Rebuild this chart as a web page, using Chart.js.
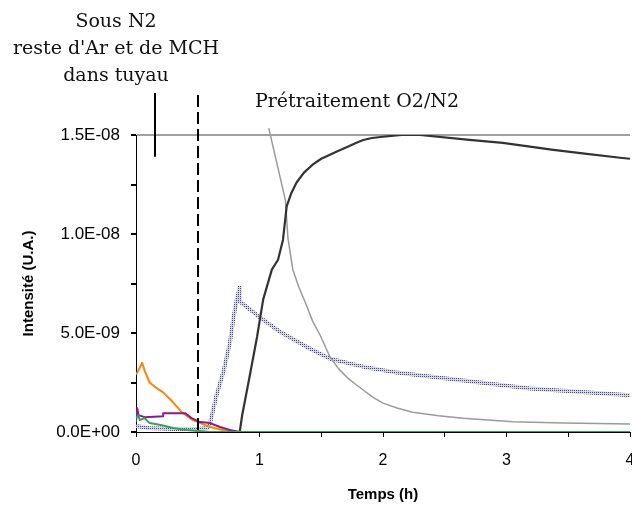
<!DOCTYPE html>
<html>
<head>
<meta charset="utf-8">
<script src="https://cdn.jsdelivr.net/npm/chart.js@4.4.1/dist/chart.umd.min.js"></script>
<style>
html, body { margin: 0; padding: 0; background: #fff; }
</style>
</head>
<body>
<canvas id="chart" width="632" height="506"></canvas>
<script>
// Données (temps en h, intensité en U.A.)
const tempsNoir = [0.84, 0.86, 0.92, 0.98, 1.03, 1.10, 1.15, 1.19, 1.22, 1.26, 1.30, 1.36, 1.43, 1.50, 1.57, 1.64, 1.71, 1.78, 1.84, 1.91, 1.98, 2.15, 2.30, 2.70, 2.97, 3.38, 3.65, 3.92, 4.00];
const intNoir = [0, 0.86e-9, 2.8e-9, 4.8e-9, 6.7e-9, 8.2e-9, 8.7e-9, 9.7e-9, 11.4e-9, 12.1e-9, 12.6e-9, 13.1e-9, 13.5e-9, 13.8e-9, 14.0e-9, 14.2e-9, 14.4e-9, 14.6e-9, 14.75e-9, 14.85e-9, 14.9e-9, 15.0e-9, 15.0e-9, 14.75e-9, 14.6e-9, 14.25e-9, 14.05e-9, 13.85e-9, 13.8e-9];

const tempsGris = [1.075, 1.21, 1.23, 1.27, 1.32, 1.38, 1.43, 1.49, 1.57, 1.64, 1.71, 1.78, 1.84, 1.92, 2.00, 2.12, 2.24, 2.45, 2.65, 3.05, 3.46, 4.00];
const intGris = [15.35e-9, 11.7e-9, 9.8e-9, 8.2e-9, 7.3e-9, 6.4e-9, 5.6e-9, 4.9e-9, 3.8e-9, 3.2e-9, 2.75e-9, 2.4e-9, 2.12e-9, 1.75e-9, 1.46e-9, 1.2e-9, 1.0e-9, 0.82e-9, 0.7e-9, 0.52e-9, 0.45e-9, 0.4e-9];

const tempsPointille = [0, 0.1, 0.3, 0.5, 0.58, 0.60, 0.65, 0.71, 0.76, 0.79, 0.82, 0.84, 0.84, 1.0, 1.17, 1.38, 1.57, 1.84, 2.11, 2.65, 3.19, 4.0];
const intPointille = [0.3e-9, 0.2e-9, 0.15e-9, 0.15e-9, 0.2e-9, 0.45e-9, 1.8e-9, 3.1e-9, 4.5e-9, 5.8e-9, 6.8e-9, 7.3e-9, 6.6e-9, 5.8e-9, 5.05e-9, 4.3e-9, 3.7e-9, 3.3e-9, 3.0e-9, 2.6e-9, 2.2e-9, 1.85e-9];

const tempsOrange = [0, 0.01, 0.05, 0.07, 0.11, 0.17, 0.22, 0.30, 0.37, 0.46, 0.52, 0.60, 0.70, 0.80, 0.86];
const intOrange = [2.9e-9, 3.0e-9, 3.5e-9, 3.1e-9, 2.5e-9, 2.2e-9, 2.0e-9, 1.5e-9, 1.0e-9, 0.6e-9, 0.45e-9, 0.25e-9, 0.1e-9, 0.02e-9, 0];

const tempsViolet = [0, 0.01, 0.02, 0.07, 0.22, 0.22, 0.40, 0.45, 0.52, 0.60, 0.68, 0.76, 0.84];
const intViolet = [0.5e-9, 1.2e-9, 0.85e-9, 0.75e-9, 0.8e-9, 0.95e-9, 0.95e-9, 0.7e-9, 0.5e-9, 0.45e-9, 0.25e-9, 0.1e-9, 0];

const tempsVert = [0, 0.02, 0.03, 0.07, 0.11, 0.20, 0.30, 0.41, 0.50, 0.60, 4.0];
const intVert = [0.7e-9, 0.85e-9, 0.6e-9, 0.7e-9, 0.45e-9, 0.35e-9, 0.2e-9, 0.1e-9, 0.05e-9, 0, 0];

const xTickLabels = ['0', '1', '2', '3', '4'];
const yTickLabels = ['0.0E+00', '5.0E-09', '1.0E-08', '1.5E-08'];

// annotations (abscisses en h)
const tSousN2 = 0.155;
const tPretraitement = 0.5;
const texteSousN2 = ['Sous N2', "reste d'Ar et de MCH", 'dans tuyau'];
const textePretraitement = 'Prétraitement O2/N2';

function points(xs, ys) {
    return xs.map(function(x, i) { return { x: x, y: ys[i] }; });
}

// motif pointillé pour la courbe bleue
function motifPointille() {
    const c = document.createElement('canvas');
    c.width = 2; c.height = 2;
    const g = c.getContext('2d');
    g.fillStyle = '#d6d6ea';
    g.fillRect(0, 0, 2, 2);
    g.fillStyle = '#4a4a72';
    g.fillRect(0, 0, 1, 1);
    return g.createPattern(c, 'repeat');
}

function sansPadding(scale) {
    scale.paddingLeft = 0;
    scale.paddingRight = 0;
    scale.paddingTop = 0;
    scale.paddingBottom = 0;
}

const annotations = {
    id: 'annotations',
    afterDatasetsDraw(chart) {
        const ctx = chart.ctx;
        const xs = chart.scales.x;
        const ys = chart.scales.y;
        ctx.save();
        ctx.strokeStyle = '#000';
        ctx.lineWidth = 2;
        // trait plein
        let px = Math.round(xs.getPixelForValue(tSousN2));
        ctx.beginPath();
        ctx.moveTo(px, 93);
        ctx.lineTo(px, ys.getPixelForValue(13.9e-9));
        ctx.stroke();
        // trait pointillé
        px = Math.round(xs.getPixelForValue(tPretraitement));
        ctx.setLineDash([12, 5]);
        ctx.beginPath();
        ctx.moveTo(px, 95);
        ctx.lineTo(px, ys.getPixelForValue(0));
        ctx.stroke();
        ctx.setLineDash([]);

        ctx.fillStyle = '#111';
        ctx.font = '19px "DejaVu Serif", serif';
        ctx.textAlign = 'center';
        ctx.textBaseline = 'middle';
        texteSousN2.forEach(function(t, i) {
            ctx.fillText(t, 116, 22 + i * 27);
        });
        ctx.textAlign = 'left';
        ctx.fillText(textePretraitement, 255, 102);
        ctx.restore();
    }
};

new Chart(document.getElementById('chart').getContext('2d'), {
    type: 'line',
    data: {
        datasets: [
            { data: points(tempsVert, intVert), borderColor: '#35a058', borderWidth: 2 },
            { data: points(tempsViolet, intViolet), borderColor: '#8b1a8b', borderWidth: 2 },
            { data: points(tempsOrange, intOrange), borderColor: '#f5870f', borderWidth: 2 },
            { data: points(tempsNoir, intNoir), borderColor: '#333', borderWidth: 2.2 },
            { data: points(tempsGris, intGris), borderColor: '#9a9a9a', borderWidth: 1.5, clip: false },
            { data: points(tempsPointille, intPointille), borderColor: motifPointille(), borderWidth: 4 }
        ]
    },
    options: {
        responsive: false,
        animation: false,
        events: [],
        layout: { padding: { top: 135, right: 2, left: 0, bottom: 0 } },
        elements: {
            point: { radius: 0 },
            line: { tension: 0, borderJoinStyle: 'round' }
        },
        plugins: {
            legend: { display: false },
            tooltip: { enabled: false }
        },
        scales: {
            x: {
                type: 'linear',
                min: 0,
                max: 4,
                afterFit: function(scale) { scale.height = 74; sansPadding(scale); },
                border: { color: '#000', width: 1 },
                grid: { drawOnChartArea: false, tickLength: 5, tickColor: '#000' },
                ticks: {
                    stepSize: 0.5,
                    padding: 14,
                    color: '#000',
                    maxRotation: 0,
                    autoSkip: false,
                    font: { family: '"Liberation Sans", Arial, sans-serif', size: 16 },
                    callback: function(v, i) { return i % 2 === 0 ? xTickLabels[i / 2] : ''; }
                },
                title: {
                    display: true,
                    text: 'Temps (h)',
                    color: '#000',
                    padding: { top: 0, bottom: 2 },
                    font: { family: '"Liberation Sans", Arial, sans-serif', size: 15, weight: 'bold' }
                }
            },
            y: {
                min: 0,
                max: 1.5e-8,
                afterFit: function(scale) { scale.width = 136; sansPadding(scale); },
                border: { color: '#000', width: 1 },
                grid: {
                    tickLength: 5,
                    tickColor: '#000',
                    color: function(c) { return c.index === 6 ? '#a0a0a0' : 'rgba(0,0,0,0)'; },
                    lineWidth: 2
                },
                ticks: {
                    stepSize: 2.5e-9,
                    padding: 11,
                    color: '#000',
                    autoSkip: false,
                    font: { family: '"Liberation Sans", Arial, sans-serif', size: 17 },
                    callback: function(v, i) { return i % 2 === 0 ? yTickLabels[i / 2] : ''; }
                },
                title: {
                    display: true,
                    text: 'Intensité (U.A.)',
                    color: '#000',
                    padding: { top: 20, bottom: 0 },
                    font: { family: '"Liberation Sans", Arial, sans-serif', size: 15, weight: 'bold' }
                }
            }
        }
    },
    plugins: [annotations]
});
</script>
</body>
</html>
